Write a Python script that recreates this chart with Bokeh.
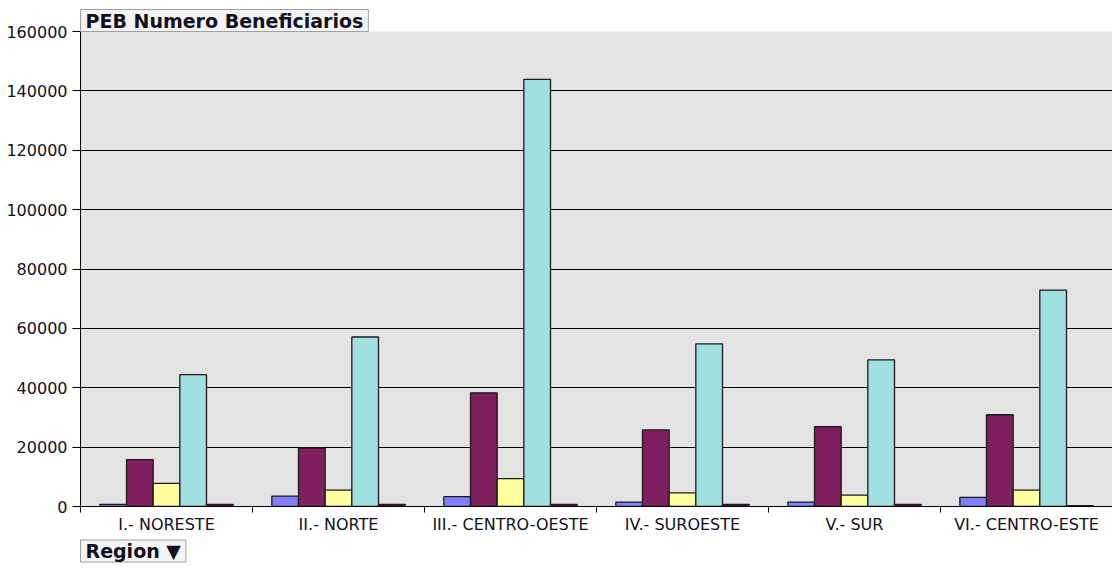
import numpy as np
from bokeh.plotting import figure
from bokeh.models import ColumnDataSource, FixedTicker, BasicTickFormatter, Title, Range1d
from bokeh.transform import dodge
from bokeh.embed import file_html
from bokeh.resources import INLINE

regions = ["I.- NORESTE", "II.- NORTE", "III.- CENTRO-OESTE", "IV.- SUROESTE", "V.- SUR", "VI.- CENTRO-ESTE"]
serie_1 = [700, 3500, 3300, 1500, 1500, 3100]
serie_2 = [15800, 19700, 38300, 25800, 26900, 30900]
serie_3 = [7800, 5500, 9400, 4600, 3800, 5500]
serie_4 = [44400, 57100, 143900, 54800, 49400, 72900]
serie_5 = [700, 700, 700, 700, 700, 300]
y_ticks = list(range(0, 160001, 20000))

series = [serie_1, serie_2, serie_3, serie_4, serie_5]
colors = ["#8080FF", "#801F5F", "#FFFF9F", "#A0E0E0", "#600060"]

centers = [i + 0.5 for i in range(len(regions))]
data = {"x": centers}
for k, s in enumerate(series):
    data[f"s{k}"] = s
src = ColumnDataSource(data)

FONT = "DejaVu Sans"

p = figure(width=1112, height=563, output_backend="svg", toolbar_location=None,
           x_range=Range1d(0, len(regions)), y_range=Range1d(0, 160000),
           min_border_left=80, min_border_right=0, min_border_top=31, min_border_bottom=20,
           title=None)
p.background_fill_color = "#E3E3E3"
p.border_fill_color = "white"
p.outline_line_color = None

bw = 0.155
offsets = [-2 * bw, -bw, 0, bw, 2 * bw]
for k in range(5):
    p.vbar(x=dodge("x", offsets[k], range=p.x_range), top=f"s{k}", width=bw, source=src,
           fill_color=colors[k], line_color="#1a1a1a", line_width=1.3)

# x axis
p.xaxis.ticker = FixedTicker(ticks=centers, minor_ticks=list(range(len(regions) + 1)))
p.xaxis.major_label_overrides = {c: r for c, r in zip(centers, regions)}
p.xaxis.major_tick_out = 0
p.xaxis.major_tick_in = 0
p.xaxis.minor_tick_out = 6
p.xaxis.minor_tick_in = 0
p.xaxis.minor_tick_line_color = "black"
p.xaxis.axis_line_color = "black"
p.xaxis.major_label_text_font = FONT
p.xaxis.major_label_text_font_size = "16px"
p.xaxis.major_label_text_color = "#111122"
p.xaxis.major_label_standoff = 2

# y axis
p.yaxis.ticker = FixedTicker(ticks=y_ticks)
p.yaxis.formatter = BasicTickFormatter(use_scientific=False)
p.yaxis.major_tick_out = 8
p.yaxis.major_tick_in = 0
p.yaxis.minor_tick_line_color = None
p.yaxis.axis_line_color = "black"
p.yaxis.major_tick_line_color = "black"
p.yaxis.major_label_text_font = FONT
p.yaxis.major_label_text_font_size = "16px"
p.yaxis.major_label_text_color = "#111122"
p.yaxis.major_label_standoff = 5

p.xgrid.grid_line_color = None
p.ygrid.ticker = FixedTicker(ticks=y_ticks)
p.ygrid.grid_line_color = "black"
p.ygrid.grid_line_width = 1

title = Title(text="PEB Numero Beneficiarios", align="left", offset=0, standoff=0,
              text_font=FONT, text_font_style="bold", text_font_size="19px", text_color="#111122",
              background_fill_color="#F4F4F4", border_line_color="#A0A0A0", border_line_width=1,
              padding=(5, 0))
p.add_layout(title, "above")

region_btn = Title(text="Region \u25BC", align="left", offset=0, standoff=3,
                   text_font=FONT, text_font_style="bold", text_font_size="19px", text_color="#111122",
                   background_fill_color="#F4F4F4", border_line_color="#A0A0A0", border_line_width=1,
                   padding=(5, 0))
p.add_layout(region_btn, "below")

open("out.html", "w").write(file_html(p, INLINE))
